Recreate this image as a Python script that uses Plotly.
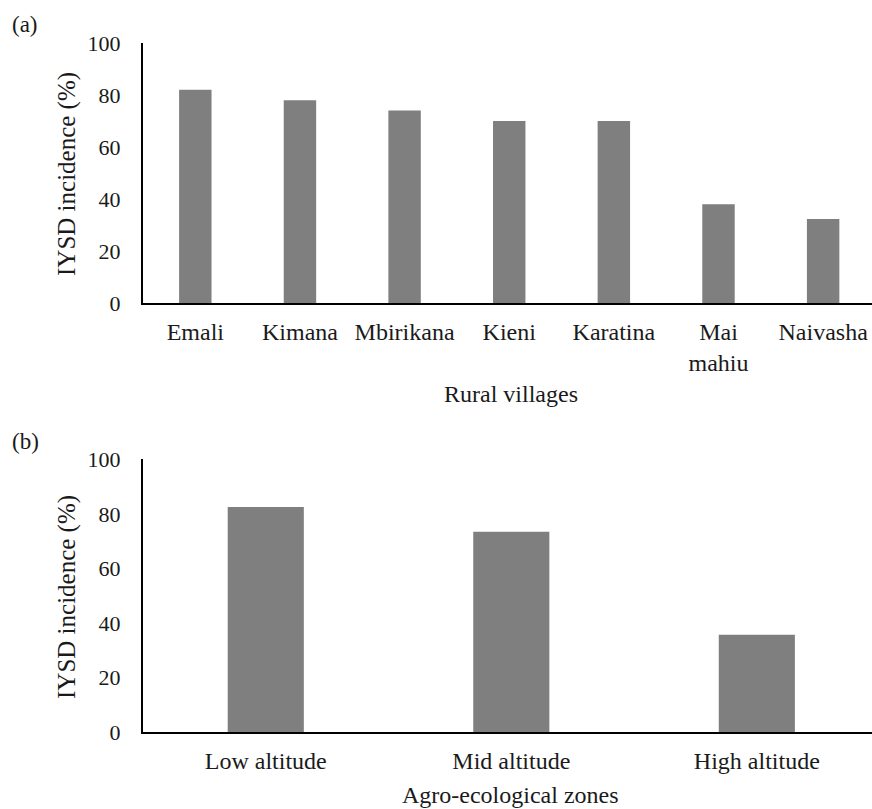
import plotly.graph_objects as go

villages = ["Emali", "Kimana", "Mbirikana", "Kieni", "Karatina", "Mai<br>mahiu", "Naivasha"]
village_incidence = [82, 78, 74, 70, 70, 38, 32.3]

zones = ["Low altitude", "Mid altitude", "High altitude"]
zone_incidence = [82.5, 73.5, 35.7]

y_ticks = [0, 20, 40, 60, 80, 100]

W, H = 872, 809
FONT = "Liberation Serif, Times New Roman, serif"
BAR = "#7f7f7f"
TXT = "#1a1a1a"

fig = go.Figure()
fig.add_trace(go.Bar(x=villages, y=village_incidence, width=0.31,
                     marker=dict(color=BAR, line=dict(width=0)),
                     xaxis="x", yaxis="y", showlegend=False))
fig.add_trace(go.Bar(x=zones, y=zone_incidence, width=0.31,
                     marker=dict(color=BAR, line=dict(width=0)),
                     xaxis="x2", yaxis="y2", showlegend=False))

xdom = [143 / W, 1.0]
top_dom = [1 - 303 / H, 1 - 43 / H]
bot_dom = [1 - 732.3 / H, 1 - 459.3 / H]

common_x = dict(showline=True, linecolor="black", linewidth=2, ticks="",
                showgrid=False, zeroline=False, automargin=False,
                tickfont=dict(family=FONT, size=24, color=TXT),
                ticklabelstandoff=6, fixedrange=True)
common_y = dict(showline=True, linecolor="black", linewidth=2, ticks="",
                showgrid=False, zeroline=False, automargin=False, range=[0, 100], tickvals=y_ticks,
                tickfont=dict(family=FONT, size=22, color=TXT),
                ticklabelstandoff=16, fixedrange=True)

fig.update_layout(
    width=W, height=H,
    margin=dict(l=0, r=0, t=0, b=0, autoexpand=False),
    paper_bgcolor="white", plot_bgcolor="white",
    xaxis=dict(domain=xdom, anchor="y", range=[-0.5, 6.467], **common_x),
    yaxis=dict(domain=top_dom, anchor="x", **common_y),
    xaxis2=dict(domain=xdom, anchor="y2", range=[-0.5, 2.469], **common_x),
    yaxis2=dict(domain=bot_dom, anchor="x2", **common_y),
    font=dict(family=FONT, color=TXT),
)

def ann(text, x, y, size=24, angle=0, xanchor="center"):
    fig.add_annotation(text=text, x=x / W, y=1 - y / H, xref="paper", yref="paper",
                       showarrow=False, textangle=angle, xanchor=xanchor, yanchor="middle",
                       font=dict(family=FONT, size=size, color=TXT))

ann("(a)", 10, 24, size=23, xanchor="left")
ann("(b)", 10, 441, size=23, xanchor="left")
ann("IYSD incidence (%)", 67, 174, size=25, angle=-90)
ann("IYSD incidence (%)", 67, 597, size=25, angle=-90)
ann("Rural villages", 511, 394)
ann("Agro-ecological zones", 511, 795)

fig.write_html("out.html", config={"displayModeBar": False},
               post_script="document.body.style.margin='0';document.body.style.overflow='hidden';")
